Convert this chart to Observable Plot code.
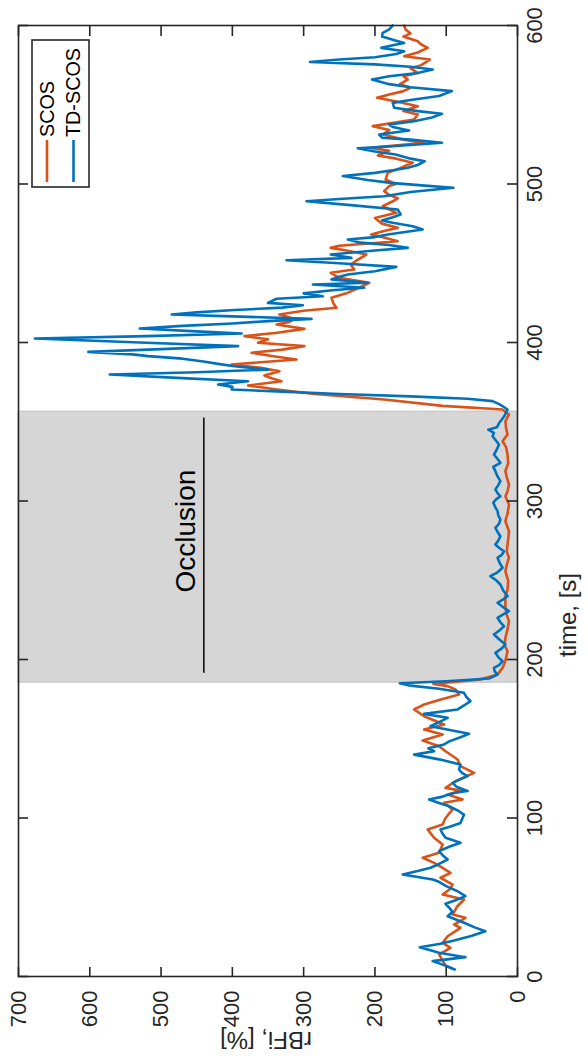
<!DOCTYPE html>
<html>
<head>
<meta charset="utf-8">
<script src="https://cdn.jsdelivr.net/npm/d3@7"></script>
<script src="https://cdn.jsdelivr.net/npm/@observablehq/plot@0.6"></script>
<style>
  html, body { margin: 0; padding: 0; background: #fff; overflow: hidden; }
  #page { width: 588px; height: 1059px; position: relative; }
  /* the chart is laid out in landscape and turned a quarter turn counter-clockwise */
  #chart { position: absolute; left: 0; top: 1059px; width: 1059px; height: 588px;
           transform: rotate(-90deg); transform-origin: 0 0; }
</style>
</head>
<body>
<div id="page"><div id="chart"></div></div>
<script>
// ---- data -------------------------------------------------------------
const seriesNames = ["SCOS", "TD-SCOS"];

const scosTime = [5, 7, 10, 13.9, 18.1, 21.2, 25.4, 30.7, 32.8, 37, 39.1, 44, 48.6, 51.7, 55, 58, 62.3, 65.4, 68.5, 71.7, 74.9, 78, 83.3, 87.5, 92.7, 95.9, 100,
  105.4, 109.6, 111.7, 114.8, 117, 119, 123.2, 128.5, 132.7, 136.9, 142.1, 145.3, 148.9, 152.7, 155.8, 159, 164.2, 168.5, 171.6, 174.5, 177.9, 181.1, 183.2, 184.6, 187.4, 190.5,
  194.7, 199, 205.2, 209, 213.6, 219, 224.2, 228, 232.6, 240, 244, 249.4, 255.7, 260, 264.2, 268, 272.6, 276, 280.9, 287.3, 292, 297.8, 303, 306, 310.4, 315, 318.8, 324, 329.3, 334, 337.7, 342, 346, 350.3, 354.6,
  357.7, 360, 364, 367.5, 370.5, 372.9, 375.6, 377.5, 379.2, 381.9, 384, 386.1, 389.3, 391.5, 393.5, 395.5, 397.7, 399.8, 402, 404, 406, 408.6, 411.4, 413, 414.9, 417.7, 420, 421.9, 424.5, 428.2, 431, 434, 437.7, 440.8, 444, 446.1, 449.2, 452, 455.5, 458, 459.7, 461, 463.9, 466, 468.1, 470, 472.4, 475, 478.6, 481.8, 484, 486, 489.1, 491, 493, 495.5, 498.7,
  500, 502.8, 507, 510, 513.4, 516, 518, 521, 522.8, 526, 528, 531.2, 534, 536.5, 540.7, 543.9, 546, 549.1, 552, 554.4, 556.5, 558.6, 560.7, 563, 565.9, 568, 570.1, 573, 575, 578.5, 580.6, 583, 585.9, 588, 590.1, 593, 595, 597.5, 600];
const scosValue = [92, 101, 105, 110, 94, 105, 98, 80, 89, 73, 91, 85, 75, 105, 95, 91, 108, 94, 105, 117, 133, 110, 105, 117, 126, 105, 101,
  91, 103, 77, 98, 77, 101, 87, 61, 80, 84, 101, 110, 133, 105, 131, 103, 131, 145, 131, 110, 82, 87, 98, 118, 52, 28,
  21, 17, 14, 18, 17, 14, 12, 15, 17, 17, 14, 13, 17, 15, 12, 15, 14, 13, 12, 17, 14, 12, 17, 14, 12, 15, 17, 13, 14, 16, 21, 14, 16, 17, 12,
  21, 105, 187, 285, 340, 378, 331, 345, 355, 334, 360, 401, 310, 345, 373, 330, 299, 364, 350, 383, 340, 299, 338, 320, 313, 334, 300, 254, 258, 261, 240, 225, 208, 250, 262, 229, 234, 225, 212, 240, 262, 250, 168, 185, 205, 190, 168, 190, 200, 170, 180, 189, 175, 168, 180, 187, 180,
  171, 185, 182, 165, 147, 170, 196, 180, 206, 131, 160, 189, 180, 203, 145, 140, 160, 140, 170, 197, 180, 160, 150, 165, 154, 160, 140, 150, 135, 123, 159, 140, 126, 135, 140, 160, 150, 157, 159];

const tdTime = [4.4, 5, 7.5, 9.7, 12.2, 15, 18.5, 20.5, 22.7, 25.5, 28.6, 31, 33.9, 38, 40.8, 43, 45.9, 48, 50.7, 53.8, 57, 60.1, 61.2, 64.4, 66.5, 68.6, 71, 73.8, 76.5, 79.1, 82, 84.4, 87.5, 90, 92.7, 94.5, 96.9, 99,
  102, 104.3, 107.4, 109.5, 111.7, 113.5, 115.9, 117, 119.5, 122.2, 124.5, 126.4, 128.5, 130.6, 133.8, 137, 140, 142.1, 144, 146.4, 148.5, 151, 153.1, 155.5, 157.9, 160.5, 163.2, 165.7, 168.5, 171, 173.7, 176.5, 179, 181.5, 183.5, 185, 186.3, 188, 190.5,
  192.5, 194.7, 196.5, 198.9, 201.5, 204.2, 207, 209.5, 212.5, 215.8, 218.5, 221, 223.5, 226.3, 228.5, 230.5, 233, 235.8, 238, 240, 243.5, 247.3, 250, 252.6, 255, 257.9, 261, 264.2, 266, 268.3, 270.5, 272.6, 275, 277.8, 280.5, 283.1, 285.5, 288.3, 291, 293.6, 296, 298.9, 301, 303, 305, 307.3, 310, 312.5, 315.5, 318.8, 321.5, 324.1, 326.5, 329.3, 332.5, 335.6, 338, 340.9, 343, 345, 346.5, 349, 351.4, 354, 357.7,
  359, 361, 363, 364.5, 366, 367.5, 369, 370.3, 372, 373.5, 375.6, 377.5, 379.8, 381.2, 382.9, 385, 386.5, 388.2, 389.8, 391.4, 392.5, 394.1, 395.8, 397.7, 400, 402.5, 404, 405.7, 407, 408.8, 410.5, 412, 413.5, 414.9, 416.5, 417.7, 419, 420.5, 422, 423.5, 425, 427.6, 429.2, 431, 433, 434.5, 436.6, 437.7, 439.8, 441.5, 442.9, 445, 447.7, 450, 451.9, 453.4, 455.5, 458, 459.7, 461.5, 463, 465, 466.5, 468.1, 471.3, 473.4, 475.5, 477, 479, 480.8, 483.9, 486.5, 489.1, 490.5, 492.3, 495, 497.6, 499,
  500.7, 502.5, 505, 507, 509, 510.2, 512, 514.4, 516, 518.6, 520.5, 522.5, 524, 526, 528, 529.2, 531.2, 533.8, 536, 537.5, 539.6, 542, 544.3, 546, 548.1, 551.2, 553, 555.5, 558.6, 561, 563, 565.9, 568, 570, 572.2, 574, 575.5, 577, 578.5, 580, 582, 583.8, 585.9, 587.5, 589, 591, 593, 595.4, 597.5, 600];
const tdValue = [88, 91, 105, 119, 73, 110, 137, 110, 89, 65, 45, 60, 75, 98, 91, 95, 101, 88, 73, 84, 100, 112, 119, 161, 140, 122, 110, 98, 105, 110, 95, 80, 101, 105, 108, 95, 80, 78,
  75, 82, 96, 110, 124, 105, 89, 70, 85, 91, 80, 70, 78, 82, 80, 110, 145, 117, 125, 103, 95, 80, 68, 95, 122, 110, 98, 131, 84, 75, 66, 72, 75, 110, 150, 165, 100, 40, 28,
  32, 33, 26, 21, 27, 31, 22, 17, 25, 33, 25, 19, 24, 28, 20, 12, 20, 28, 20, 14, 20, 24, 30, 38, 28, 21, 25, 28, 22, 19, 26, 31, 27, 24, 28, 31, 26, 24, 27, 28, 31, 34, 30, 24, 28, 31, 27, 24, 28, 31, 34, 24, 28, 33, 29, 26, 30, 35, 33, 41, 29, 26, 22, 18, 14,
  18, 25, 35, 70, 150, 250, 330, 401, 400, 420, 378, 470, 572, 450, 350, 397, 420, 443, 470, 518, 540, 602, 500, 392, 530, 677, 520, 387, 450, 530, 470, 400, 350, 289, 400, 485, 450, 397, 330, 301, 350, 338, 273, 300, 260, 215, 287, 210, 261, 250, 238, 200, 170, 250, 324, 233, 262, 200, 154, 180, 220, 238, 200, 182, 133, 147, 175, 190, 175, 164, 168, 230, 296, 250, 187, 150, 90, 130,
  178, 210, 245, 200, 170, 154, 140, 130, 150, 171, 200, 224, 170, 106, 150, 190, 194, 152, 175, 180, 145, 120, 106, 140, 173, 175, 150, 110, 92, 150, 180, 204, 180, 140, 119, 150, 200, 291, 250, 200, 170, 159, 191, 175, 159, 175, 190, 189, 180, 175];

const timeTicks = [0, 100, 200, 300, 400, 500, 600];
const rbfTicks = [0, 100, 200, 300, 400, 500, 600, 700];

// arterial occlusion interval [s] and its annotation
const occlusion = [{start: 186, end: 357}];
const occlusionLabel = [{text: "Occlusion", time: 281, value: 465}];
const occlusionBar = [{from: 192, to: 353, value: 440}];

// ---- layout -----------------------------------------------------------
const W = 1059, H = 588;
const mL = 82, mR = 26, mT = 18, mB = 71;
const frameW = W - mL - mR, frameH = H - mT - mB;
const tickLen = 10;
const font = "'Liberation Sans', Arimo, Arial, Helvetica, sans-serif";
const ink = "#262626";
const colors = ["#D95319", "#0072BD"];
const lineW = 2.6;

const scos = scosTime.map((t, i) => ({t, v: scosValue[i]}));
const td = tdTime.map((t, i) => ({t, v: tdValue[i]}));

const svg = Plot.plot({
  width: W, height: H,
  marginLeft: mL, marginRight: mR, marginTop: mT, marginBottom: mB,
  style: {fontFamily: font, background: "#fff", color: ink},
  x: {domain: [0, 600], axis: null},
  y: {domain: [0, 700], axis: null},
  marks: [
    Plot.rect(occlusion, {x1: "start", x2: "end", y1: 0, y2: 700, fill: "#d6d6d6", stroke: "#c2c2c2", strokeWidth: 1}),
    Plot.line(scos, {x: "t", y: "v", stroke: colors[0], strokeWidth: lineW, strokeLinejoin: "round"}),
    Plot.line(td, {x: "t", y: "v", stroke: colors[1], strokeWidth: lineW, strokeLinejoin: "round"}),
    Plot.ruleY(occlusionBar, {y: "value", x1: "from", x2: "to", stroke: "#000", strokeWidth: 1.5}),
    Plot.text(occlusionLabel, {x: "time", y: "value", text: "text", fontSize: 28, fill: "#000"}),
    Plot.frame({stroke: ink, strokeWidth: 1.6}),
    // inward ticks on all four sides
    Plot.ruleX(timeTicks, {x: d => d, insetTop: frameH - tickLen, stroke: ink, strokeWidth: 1.6}),
    Plot.ruleX(timeTicks, {x: d => d, insetBottom: frameH - tickLen, stroke: ink, strokeWidth: 1.6}),
    Plot.ruleY(rbfTicks, {y: d => d, insetRight: frameW - tickLen, stroke: ink, strokeWidth: 1.6}),
    Plot.ruleY(rbfTicks, {y: d => d, insetLeft: frameW - tickLen, stroke: ink, strokeWidth: 1.6}),
    // tick labels
    Plot.text(timeTicks, {x: d => d, frameAnchor: "bottom", dy: 24, text: d => String(d), fontSize: 22, fill: ink}),
    Plot.text(rbfTicks, {y: d => d, frameAnchor: "left", dx: -14, textAnchor: "end", text: d => String(d), fontSize: 22, fill: ink})
  ]
});

const root = d3.select(svg);

// axis titles
root.append("text").attr("transform", "translate(444,568)")
  .attr("text-anchor", "middle").attr("dy", "0.35em")
  .attr("font-family", font).attr("font-size", 24).attr("fill", ink)
  .text("time, [s]");
root.append("text").attr("transform", "translate(19,266) rotate(-90)")
  .attr("text-anchor", "middle").attr("dy", "0.35em")
  .attr("font-family", font).attr("font-size", 24).attr("fill", ink)
  .text("rBFi, [%]");

// legend box in the upper right corner of the frame
const lg = root.append("g").attr("font-family", font).attr("text-anchor", "start");
lg.append("rect").attr("x", 872).attr("y", 32).attr("width", 147).attr("height", 57)
  .attr("fill", "#fff").attr("stroke", ink).attr("stroke-width", 1.6);
seriesNames.forEach((name, i) => {
  const cy = 47 + i * 26.5;
  lg.append("line").attr("x1", 877).attr("x2", 919).attr("y1", cy).attr("y2", cy)
    .attr("stroke", colors[i]).attr("stroke-width", lineW);
  lg.append("text").attr("x", 922).attr("y", cy).attr("dy", "0.35em")
    .attr("font-size", 19.8).attr("fill", "#000").text(name);
});

document.getElementById("chart").appendChild(svg);
</script>
</body>
</html>
